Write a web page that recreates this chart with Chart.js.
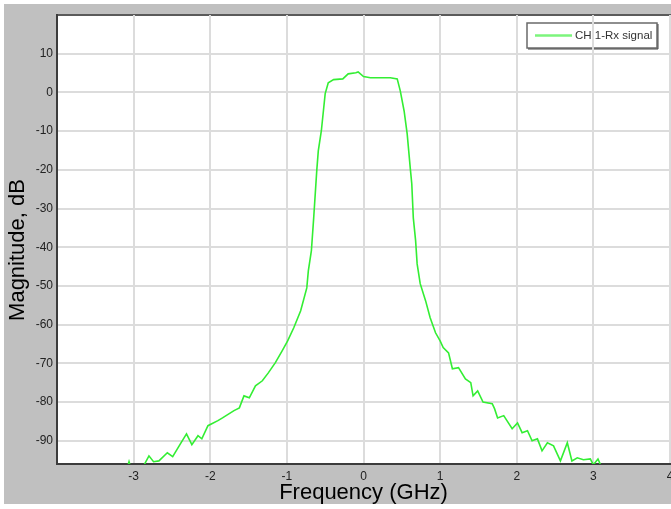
<!DOCTYPE html>
<html>
<head>
<meta charset="utf-8">
<script src="https://cdn.jsdelivr.net/npm/chart.js@4.4.1/dist/chart.umd.min.js"></script>
<style>
    html, body { margin: 0; padding: 0; background: #fff; overflow: hidden; width: 671px; height: 509px; }
    #caixa { width: 690px; height: 509px; }
</style>
</head>
<body>
<div id="caixa"><canvas id="grafico-espectro" width="690" height="509"></canvas></div>
<script>
const frequencias = [
    -4.0, -3.5, -3.2, -3.08, -3.06, -3.03, -2.9, -2.87, -2.80, -2.74,
    -2.67, -2.56, -2.49, -2.39, -2.31, -2.24, -2.16, -2.11, -2.03, -1.90,
    -1.84, -1.69, -1.62, -1.56, -1.49, -1.41, -1.32, -1.24, -1.15, -1.06,
    -0.99, -0.91, -0.82, -0.74, -0.72, -0.68, -0.65, -0.61, -0.59, -0.55,
    -0.50, -0.46, -0.39, -0.27, -0.20, -0.10, -0.07, 0.0, 0.09, 0.22,
    0.35, 0.44, 0.48, 0.53, 0.57, 0.59, 0.61, 0.63, 0.65, 0.68,
    0.70, 0.74, 0.81, 0.87, 0.94, 1.00, 1.04, 1.11, 1.16, 1.24,
    1.33, 1.40, 1.43, 1.49, 1.56, 1.68, 1.71, 1.75, 1.83, 1.94,
    2.01, 2.07, 2.14, 2.20, 2.27, 2.33, 2.40, 2.48, 2.57, 2.66,
    2.72, 2.79, 2.87, 2.96, 3.00, 3.06, 3.10, 3.2, 3.5, 4.0
];
const magnitudes = [
    -112, -104, -99, -96.8, -95.4, -97.5, -97, -96.5, -93.9, -95.4,
    -95.2, -93.1, -94.1, -90.8, -88.2, -91.0, -88.7, -89.5, -86.1, -84.8,
    -84.1, -82.2, -81.5, -78.4, -78.9, -75.8, -74.5, -72.4, -69.8, -66.7,
    -64.2, -60.8, -56.4, -50.5, -46.1, -40.9, -32.4, -20.2, -15.1, -9.9,
    -0.3, 2.5, 3.3, 3.5, 4.8, 5.1, 5.3, 4.1, 3.8, 3.8,
    3.8, 3.5, 0.4, -4.8, -10.7, -15.1, -19.5, -23.6, -32.4, -38.3,
    -44.3, -49.4, -53.8, -58.2, -62.1, -64.2, -65.9, -67.3, -71.4, -71.1,
    -74.0, -75.0, -78.4, -77.1, -80.0, -80.4, -81.7, -84.1, -83.5, -86.9,
    -85.4, -87.9, -87.4, -90.0, -89.5, -92.6, -90.5, -91.3, -95.2, -90.5,
    -95.2, -94.4, -94.9, -94.7, -96.2, -94.7, -96.5, -98, -104, -112
];
const ticksFrequencia = [-3, -2, -1, 0, 1, 2, 3, 4];
const ticksMagnitude = [10, 0, -10, -20, -30, -40, -50, -60, -70, -80, -90];
const nomeSerie = 'CH 1-Rx signal';
const tituloX = 'Frequency (GHz)';
const tituloY = 'Magnitude, dB';

const fonte = '"Liberation Sans", Arial, sans-serif';
const corSerie = '#33ee33';

// Fundo cinza, area branca, borda de cima e caixa da legenda
const pluginFundo = {
    id: 'fundo',
    beforeDraw(chart) {
        const { ctx, chartArea: a, width, height } = chart;
        ctx.save();
        ctx.fillStyle = '#fff';
        ctx.fillRect(0, 0, width, height);
        ctx.fillStyle = '#c0c0c0';
        ctx.fillRect(4, 4, width - 4, height - 9);
        ctx.fillStyle = '#fff';
        ctx.fillRect(a.left, a.top, width - a.left, a.bottom - a.top);

        ctx.strokeStyle = '#5a5a5a';
        ctx.lineWidth = 2;
        ctx.beginPath();
        ctx.moveTo(a.left, a.top);
        ctx.lineTo(width, a.top);
        ctx.stroke();

        // legenda (fica por baixo da grade, como no original)
        const bx = a.right - 143, by = a.top + 8, bw = 130, bh = 25;
        ctx.strokeStyle = '#6a6a6a';
        ctx.lineWidth = 1.5;
        ctx.strokeRect(bx, by, bw, bh);
        ctx.strokeStyle = '#444';
        ctx.lineWidth = 1;
        ctx.beginPath();
        ctx.moveTo(bx + bw + 1, by + 1);
        ctx.lineTo(bx + bw + 1, by + bh + 1);
        ctx.lineTo(bx + 1, by + bh + 1);
        ctx.stroke();
        ctx.strokeStyle = '#7cf57c';
        ctx.lineWidth = 2.5;
        ctx.beginPath();
        ctx.moveTo(bx + 8, by + 12.5);
        ctx.lineTo(bx + 45, by + 12.5);
        ctx.stroke();
        ctx.fillStyle = '#333';
        ctx.font = '11.5px ' + fonte;
        ctx.textBaseline = 'middle';
        ctx.fillText(chart.data.datasets[0].label, bx + 48, by + 13);
        ctx.restore();
    },
    afterDraw(chart) {
        // titulo do eixo Y (um pouco abaixo do centro, como no original)
        const { ctx } = chart;
        ctx.save();
        ctx.translate(18, 250);
        ctx.rotate(-Math.PI / 2);
        ctx.fillStyle = '#000';
        ctx.font = '22px ' + fonte;
        ctx.textAlign = 'center';
        ctx.textBaseline = 'middle';
        ctx.fillText(tituloY, 0, 0);
        ctx.restore();
    }
};

const pontos = frequencias.map((f, i) => ({ x: f, y: magnitudes[i] }));

new Chart(document.getElementById('grafico-espectro').getContext('2d'), {
    type: 'line',
    data: {
        datasets: [{
            label: nomeSerie,
            data: pontos,
            borderColor: corSerie,
            borderWidth: 1.6,
            pointRadius: 0,
            tension: 0,
            fill: false
        }]
    },
    options: {
        responsive: false,
        animation: false,
        layout: { padding: { top: 15, right: 20, left: 0, bottom: 0 } },
        plugins: {
            legend: { display: false },
            tooltip: { enabled: false }
        },
        scales: {
            x: {
                type: 'linear',
                min: -4,
                max: 4,
                afterBuildTicks: s => { s.ticks = ticksFrequencia.map(v => ({ value: v })); },
                afterFit: s => { s.height = 45; },
                grid: { color: '#dcdcdc', lineWidth: 2, drawTicks: false },
                border: { display: true, color: '#3c3c3c', width: 2 },
                ticks: {
                    color: '#222',
                    font: { family: fonte, size: 12 },
                    padding: 5,
                    maxRotation: 0,
                    autoSkip: false
                },
                title: {
                    display: true,
                    text: tituloX,
                    color: '#000',
                    font: { family: fonte, size: 22 },
                    padding: { top: 0, bottom: 3 }
                }
            },
            y: {
                type: 'linear',
                min: -96,
                max: 20,
                afterBuildTicks: s => { s.ticks = ticksMagnitude.map(v => ({ value: v })); },
                afterFit: s => { s.width = 57; },
                grid: { color: '#dcdcdc', lineWidth: 2, drawTicks: false },
                border: { display: true, color: '#3c3c3c', width: 2 },
                ticks: {
                    color: '#222',
                    font: { family: fonte, size: 12 },
                    padding: 4
                },
                title: { display: false }
            }
        }
    },
    plugins: [pluginFundo]
});
</script>
</body>
</html>
